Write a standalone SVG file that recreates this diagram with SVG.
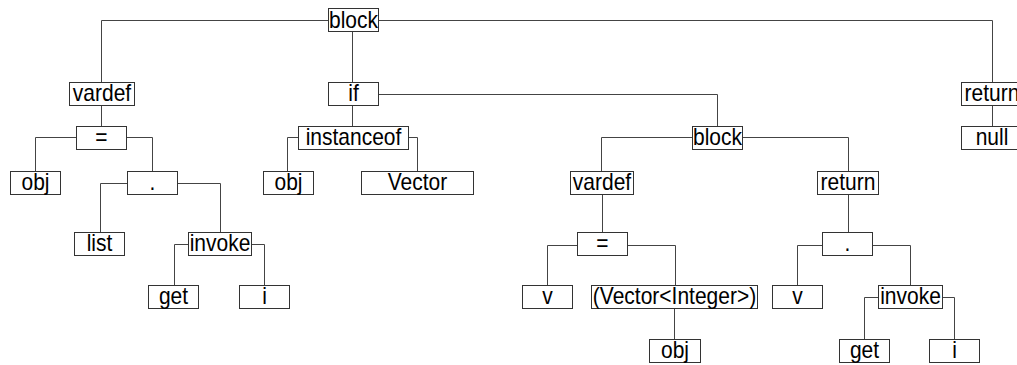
<svg xmlns="http://www.w3.org/2000/svg" width="1017" height="365" viewBox="0 0 1017 365">
  <style>
    .box { fill: #ffffff; stroke: #333333; stroke-width: 1; }
    .lbl { font-family: "Liberation Sans", Arial, sans-serif; font-size: 23px; fill: #000000; text-anchor: middle;
           transform-box: fill-box; transform-origin: center; transform: scaleX(0.913); }
    .edge { fill: none; stroke: #444444; stroke-width: 1; }
  </style>
  <rect width="1017" height="365" fill="#ffffff"/>

  <!-- tree edges: horizontal from the parent's side, then down to the child -->
  <g id="connectors">
    <path class="edge" d="M328.5 20.5 H101.5 V82.5"/>
    <path class="edge" d="M352.5 31.5 V82.5"/>
    <path class="edge" d="M378.5 20.5 H992.5 V82.5"/>
    <path class="edge" d="M101.5 105.5 V126.5"/>
    <path class="edge" d="M352.5 105.5 V126.5"/>
    <path class="edge" d="M378.5 94.5 H717.5 V126.5"/>
    <path class="edge" d="M992.5 105.5 V126.5"/>
    <path class="edge" d="M76.5 137.5 H35.5 V171.5"/>
    <path class="edge" d="M126.5 137.5 H152.5 V171.5"/>
    <path class="edge" d="M298.5 137.5 H287.5 V171.5"/>
    <path class="edge" d="M408.5 137.5 H417.5 V171.5"/>
    <path class="edge" d="M692.5 137.5 H601.5 V171.5"/>
    <path class="edge" d="M742.5 137.5 H848.5 V171.5"/>
    <path class="edge" d="M127.5 183.5 H100.5 V232.5"/>
    <path class="edge" d="M177.5 183.5 H220.5 V232.5"/>
    <path class="edge" d="M602.5 194.5 V232.5"/>
    <path class="edge" d="M848.5 194.5 V232.5"/>
    <path class="edge" d="M188.5 244.5 H174.5 V285.5"/>
    <path class="edge" d="M251.5 244.5 H264.5 V285.5"/>
    <path class="edge" d="M577.5 245.5 H547.5 V285.5"/>
    <path class="edge" d="M627.5 245.5 H675.5 V285.5"/>
    <path class="edge" d="M822.5 245.5 H797.5 V285.5"/>
    <path class="edge" d="M872.5 245.5 H910.5 V285.5"/>
    <path class="edge" d="M674.5 308.5 V339.5"/>
    <path class="edge" d="M878.5 297.5 H864.5 V339.5"/>
    <path class="edge" d="M942.5 297.5 H954.5 V339.5"/>
  </g>

  <!-- level 0 -->
  <g id="n-block-root"><rect class="box" x="328.5" y="8.5" width="50" height="23"/><text class="lbl" x="353.5" y="28">block</text></g>

  <!-- level 1 -->
  <g id="n-vardef-1"><rect class="box" x="69.5" y="82.5" width="65" height="23"/><text class="lbl" x="102" y="101.5">vardef</text></g>
  <g id="n-if"><rect class="box" x="328.5" y="82.5" width="50" height="23"/><text class="lbl" x="353.5" y="101.5">if</text></g>
  <g id="n-return-1"><rect class="box" x="961.5" y="82.5" width="61" height="23"/><text class="lbl" x="992" y="101.5">return</text></g>

  <!-- level 2 -->
  <g id="n-assign-1"><rect class="box" x="76.5" y="126.5" width="50" height="23"/><text class="lbl" x="101.5" y="145.5">=</text></g>
  <g id="n-instanceof"><rect class="box" x="298.5" y="126.5" width="110" height="23"/><text class="lbl" x="353.5" y="145.5">instanceof</text></g>
  <g id="n-block-then"><rect class="box" x="692.5" y="126.5" width="50" height="23"/><text class="lbl" x="717.5" y="145.5">block</text></g>
  <g id="n-null"><rect class="box" x="961.5" y="126.5" width="61" height="23"/><text class="lbl" x="992" y="145.5">null</text></g>

  <!-- level 3 -->
  <g id="n-obj-1"><rect class="box" x="10.5" y="171.5" width="50" height="23"/><text class="lbl" x="35.5" y="190.5">obj</text></g>
  <g id="n-dot-1"><rect class="box" x="127.5" y="171.5" width="50" height="23"/><text class="lbl" x="152.5" y="190.5">.</text></g>
  <g id="n-obj-2"><rect class="box" x="263.5" y="171.5" width="50" height="23"/><text class="lbl" x="288.5" y="190.5">obj</text></g>
  <g id="n-vector"><rect class="box" x="361.5" y="171.5" width="112" height="23"/><text class="lbl" x="417.5" y="190.5">Vector</text></g>
  <g id="n-vardef-2"><rect class="box" x="570.5" y="171.5" width="63" height="23"/><text class="lbl" x="602" y="190.5">vardef</text></g>
  <g id="n-return-2"><rect class="box" x="817.5" y="171.5" width="61" height="23"/><text class="lbl" x="848" y="190.5">return</text></g>

  <!-- level 4 -->
  <g id="n-list"><rect class="box" x="74.5" y="232.5" width="50" height="23"/><text class="lbl" x="99.5" y="251.5">list</text></g>
  <g id="n-invoke-1"><rect class="box" x="188.5" y="232.5" width="63" height="23"/><text class="lbl" x="220" y="251.5">invoke</text></g>
  <g id="n-assign-2"><rect class="box" x="577.5" y="232.5" width="50" height="23"/><text class="lbl" x="602.5" y="251.5">=</text></g>
  <g id="n-dot-2"><rect class="box" x="822.5" y="232.5" width="50" height="23"/><text class="lbl" x="847.5" y="251.5">.</text></g>

  <!-- level 5 -->
  <g id="n-get-1"><rect class="box" x="148.5" y="285.5" width="50" height="23"/><text class="lbl" x="173.5" y="304.5">get</text></g>
  <g id="n-i-1"><rect class="box" x="239.5" y="285.5" width="50" height="23"/><text class="lbl" x="264.5" y="304.5">i</text></g>
  <g id="n-v-1"><rect class="box" x="522.5" y="285.5" width="50" height="23"/><text class="lbl" x="547.5" y="304.5">v</text></g>
  <g id="n-cast"><rect class="box" x="591.5" y="285.5" width="166" height="23"/><text class="lbl" x="674.5" y="304.5">(Vector&lt;Integer&gt;)</text></g>
  <g id="n-v-2"><rect class="box" x="772.5" y="285.5" width="50" height="23"/><text class="lbl" x="797.5" y="304.5">v</text></g>
  <g id="n-invoke-2"><rect class="box" x="878.5" y="285.5" width="64" height="23"/><text class="lbl" x="910.5" y="304.5">invoke</text></g>

  <!-- level 6 -->
  <g id="n-obj-3"><rect class="box" x="649.5" y="339.5" width="51" height="23"/><text class="lbl" x="675" y="358.5">obj</text></g>
  <g id="n-get-2"><rect class="box" x="839.5" y="339.5" width="50" height="23"/><text class="lbl" x="864.5" y="358.5">get</text></g>
  <g id="n-i-2"><rect class="box" x="929.5" y="339.5" width="50" height="23"/><text class="lbl" x="954.5" y="358.5">i</text></g>
</svg>
